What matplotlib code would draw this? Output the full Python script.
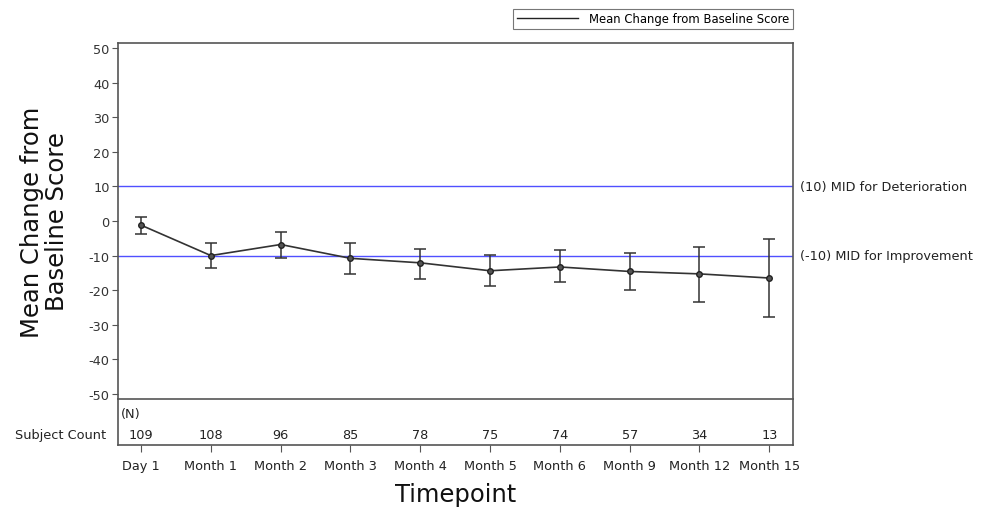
import matplotlib
matplotlib.use("Agg")
import matplotlib.pyplot as plt
from matplotlib.lines import Line2D
import numpy as np

timepoints = ["Day 1", "Month 1", "Month 2", "Month 3", "Month 4", "Month 5",
              "Month 6", "Month 9", "Month 12", "Month 15"]
mean_change = [-1.2, -10.0, -6.8, -10.8, -12.1, -14.4, -13.3, -14.6, -15.3, -16.5]
upper_ci = [1.2, -6.5, -3.1, -6.5, -8.0, -9.7, -8.3, -9.2, -7.6, -5.2]
lower_ci = [-3.8, -13.5, -10.8, -15.3, -16.7, -18.8, -17.7, -19.9, -23.3, -27.7]
subject_count = [109, 108, 96, 85, 78, 75, 74, 57, 34, 13]
ref_values = [10, -10]
ref_labels = ["(10) MID for Deterioration", "(-10) MID for Improvement"]
y_ticks = [-50, -40, -30, -20, -10, 0, 10, 20, 30, 40, 50]

plt.rcParams['font.family'] = ['DejaVu Sans']
W, H = 988, 510
fig = plt.figure(figsize=(W / 100, H / 100), dpi=100)

left, right = 118 / W, 793 / W
top_main, bot_main = 1 - 44 / H, 1 - 400 / H
bot_cnt = 1 - 446 / H

spine_col = '#555555'
txt_col = '#222222'
fs = 9.3
axc = fig.add_axes([left, bot_cnt, right - left, bot_main - bot_cnt])
ax = fig.add_axes([left, bot_main, right - left, top_main - bot_main], sharex=axc)
axc.patch.set_visible(False)

x = np.arange(len(timepoints))
m = np.array(mean_change)
yerr = np.vstack([m - np.array(lower_ci), np.array(upper_ci) - m])

for v in ref_values:
    ax.axhline(v, color='#5050ff', lw=1.0, zorder=1)

ax.errorbar(x, m, yerr=yerr, color='#333333', lw=1.2, elinewidth=1.1,
            capsize=4, capthick=1.1, marker='o', ms=4, mfc='#555555',
            mec='#222222', zorder=3, label="Mean Change from Baseline Score")

ax.set_xlim(-0.33, 9.34)
ax.set_ylim(-51.5, 51.5)
ax.set_yticks(y_ticks)
ax.set_yticklabels([str(t) for t in y_ticks], fontsize=fs, color='#333333')
ax.tick_params(axis='y', length=4, width=0.8, color=spine_col, pad=2)
ax.tick_params(axis='x', bottom=False, labelbottom=False)
for s in ax.spines.values():
    s.set_color(spine_col)
    s.set_linewidth(1.2)

trans = ax.get_yaxis_transform()
for v, lab in zip(ref_values, ref_labels):
    ax.text(1.01, v, lab, transform=trans, ha='left', va='center',
            fontsize=fs, color=txt_col, clip_on=False)

ax.set_ylabel("Mean Change from\nBaseline Score", fontsize=17.5, color='#111111',
              labelpad=14, linespacing=1.05)

# subject count strip
axc.set_ylim(0, 1)
axc.set_yticks([])
for s in axc.spines.values():
    s.set_color(spine_col)
    s.set_linewidth(1.2)
axc.spines['top'].set_visible(False)
for xi, n in zip(x, subject_count):
    axc.text(xi, 0.22, str(n), ha='center', va='center', fontsize=fs, color=txt_col)
axc.text(0.004, 0.68, "(N)", transform=axc.transAxes, ha='left', va='center',
         fontsize=fs, color=txt_col)
axc.text(-0.017, 0.22, "Subject Count", transform=axc.transAxes, ha='right',
         va='center', fontsize=fs, color=txt_col)
axc.set_xticks(x)
axc.set_xticklabels(timepoints, fontsize=fs, color=txt_col)
axc.tick_params(axis='x', length=5, width=0.8, color=spine_col, pad=5)
axc.set_xlabel("Timepoint", fontsize=17.5, color='#111111', labelpad=7)

# legend
h = [Line2D([0], [0], color='#222222', lw=1.0)]
leg = fig.legend(h, ["Mean Change from Baseline Score"], loc='upper right',
                 bbox_to_anchor=(right, 1 - 10 / H),
                 fontsize=8.4, frameon=True, fancybox=False, borderpad=0.3,
                 handlelength=5.2, handletextpad=1.0, borderaxespad=0)
leg.get_frame().set_edgecolor('#555555')
leg.get_frame().set_linewidth(0.8)

fig.savefig("out.png", dpi=100)
